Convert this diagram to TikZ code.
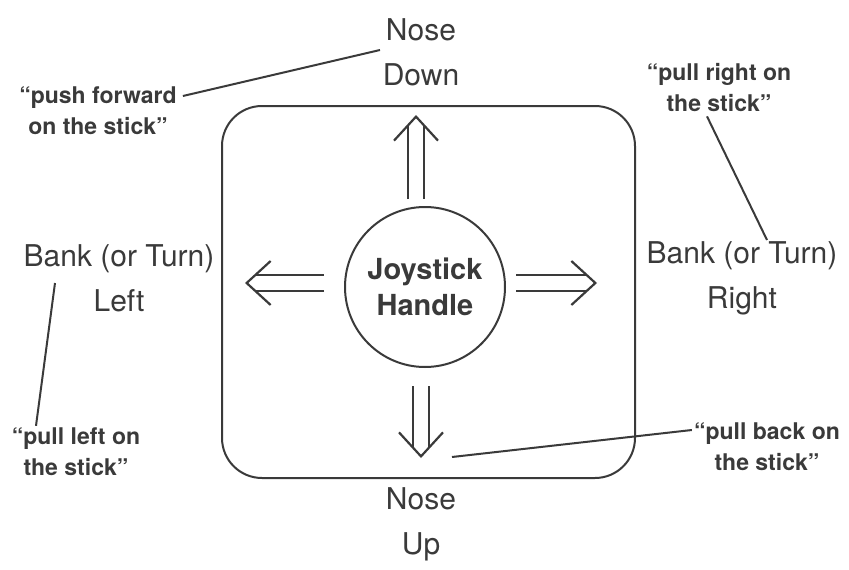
\documentclass[tikz,border=0pt]{standalone}
\usepackage{fontspec}
\setmainfont{TeX Gyre Heros}
\usetikzlibrary{arrows.meta}
\definecolor{tinta}{HTML}{3A3A3A}
\tikzset{
  rotulo/.style={font=\fontsize{30}{45}\selectfont, align=center, text=tinta, inner sep=0pt},
  fala/.style={font=\fontsize{23}{31}\selectfont\bfseries, align=center, text=tinta, inner sep=0pt},
  seta/.style={draw=tinta, line width=2pt, double=white, double distance=14pt, shorten >=10pt},
  ponta/.style={draw=tinta, line width=2.2pt, -{Straight Barb[length=24pt,width=44pt]}},
  guia/.style={draw=tinta, line width=2pt}
}
\begin{document}
\begin{tikzpicture}[x=1pt,y=-1pt]
			\useasboundingbox (0,0) rectangle (849,570);
			% Caixa com cantos arredondados
			\draw[tinta, line width=2pt, rounded corners=40pt] (222,106) rectangle (635,478);
			
			% Manche no centro
			\node[circle, draw=tinta, line width=2pt, minimum size=160pt, align=center,
			  font=\fontsize{29}{36}\selectfont\bfseries, text=tinta] (joy) at (425,287) {Joystick\\Handle};
			
			% Pontas das setas
			\coordinate (cima) at (416,115);
			\coordinate (baixo) at (421,458);
			\coordinate (esq) at (245,283);
			\coordinate (dir) at (597,283);
			
			% Setas duplas
			\draw[seta, shorten <=7pt] (joy.north -| cima) -- (cima);
			\draw[seta, shorten <=18pt] (joy.south -| baixo) -- (baixo);
			\draw[seta, shorten <=20pt] (joy.west |- esq) -- (esq);
			\draw[seta, shorten <=10pt] (joy.east |- dir) -- (dir);
			\draw[ponta] (cima) ++(0,1) -- (cima);
			\draw[ponta] (baixo) ++(0,-1) -- (baixo);
			\draw[ponta] (esq) ++(1,0) -- (esq);
			\draw[ponta] (dir) ++(-1,0) -- (dir);
			
			% Rótulos das direções
			\node[rotulo] (nariz baixo) at (421,52) {Nose\\Down};
			\node[rotulo] (nariz cima) at (421,524) {Nose\\Up};
			\node[rotulo] (banco esq) at (119,278) {Bank (or Turn)\\Left};
			\node[rotulo] (banco dir) at (742,278) {Bank (or Turn)\\Right};
			
			% Falas entre aspas
			\node[fala] (empurra) at (98,111) {“push forward\\on the stick”};
			\node[fala] (puxa dir) at (719,88) {“pull right on\\the stick”};
			\node[fala] (puxa esq) at (76,452) {“pull left on\\the stick”};
			\node[fala] (puxa tras) at (767,447) {“pull back on\\the stick”};
			
			% Linhas de chamada
			\coordinate (f1) at (380,50);
			\coordinate (f2) at (767,240);
			\coordinate (f3) at (55,283);
			\coordinate (f4) at (452,457);
			\draw[guia] (empurra.east) ++(6,-15) -- (f1);
			\draw[guia] (puxa dir.south) ++(-12,4) -- (f2);
			\draw[guia] (puxa esq.north) ++(-40,-2) -- (f3);
			\draw[guia] (puxa tras.west) ++(-2,-17) -- (f4);
		\end{tikzpicture}
\end{document}
